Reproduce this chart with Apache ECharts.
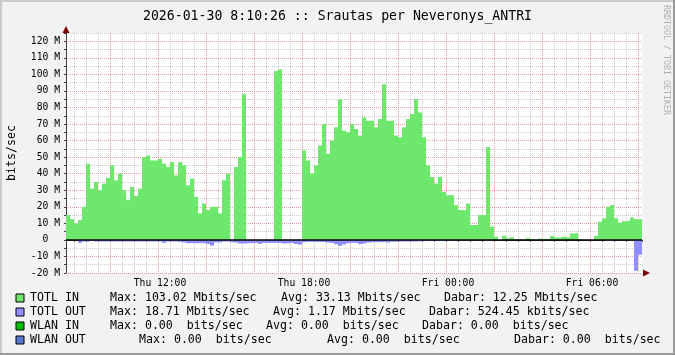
<!DOCTYPE html>
<html>
<head>
<meta charset="utf-8">
<script src="https://cdn.jsdelivr.net/npm/echarts@6/dist/echarts.min.js"></script>
<style>
	html, body { margin: 0; padding: 0; background: #f2f2f2; }
	#container { width: 675px; height: 355px; }
</style>
</head>
<body>
<div id="container"></div>
<script>
'use strict';

// samples every 10 minutes, starting Thu 08:10
var startMinute = 490;
var stepMinutes = 10;
var dayNames = ['Thu', 'Fri'];

// TOTL IN, Mbits/sec
var inMbits = [
	15, 12.5, 10, 12, 20, 46, 31, 35, 30, 34,
	37.5, 45, 36, 40, 30, 24, 32, 26.5, 31, 50,
	51, 48, 48, 49, 46, 44, 47, 39, 47, 45,
	33, 37, 26, 16, 22, 18, 20, 20, 16, 36,
	40, 0, 44, 50, 88, 0, 0, 0, 0, 0,
	0, 0, 102, 103, 0, 0, 0, 0, 0, 54,
	48, 40, 45, 57, 70, 52, 60, 68, 85, 66,
	65, 70, 67, 63, 74, 72, 72, 68, 73, 94,
	72, 72, 63, 62, 68, 73, 76, 85, 77, 62,
	45, 38, 34, 38, 29, 27, 27, 21, 18, 18,
	22, 9, 9, 15, 15, 56, 8, 2, 0, 2.5,
	1, 1.5, 0.3, 0.3, 0.2, 1, 0.5, 0, 0.8, 0.6,
	0.6, 2.4, 1.5, 1.4, 2, 1.6, 3.8, 4, 0.5, 0,
	0, 0, 2.5, 11, 13, 20, 21, 13, 10.5, 11.3,
	11.5, 13.5, 12.5, 12.5
];

// TOTL OUT, Mbits/sec (drawn below zero)
var outMbits = [
	0, 0, 0, -1.8, -1, -1, -0.6, -1, -1, -1,
	-1, -1, -1, -1, -1, -1, -1, -1, -1, -1,
	-1, -1, -1, -1, -1.8, -1, -1, -1, -1.2, -1.5,
	-2, -2, -2, -2, -2, -2.5, -3.5, -1.5, -1.5, -1,
	-1, -1.4, -1.6, -2.2, -2.2, -2, -2, -1.8, -2.4, -1.8,
	-1.8, -1.8, -1.8, -1.8, -2.2, -2, -1.8, -2.5, -2.8, -1.4,
	-1.2, -1.2, -1.2, -1.2, -1.3, -1.6, -1.8, -2.6, -3.6, -2.8,
	-2, -1.8, -1.8, -2.6, -2.2, -1.6, -1.4, -1.4, -1.4, -1.3,
	-1.6, -1.1, -1.1, -1, -1, -1, -1, -1, -0.8, -0.6,
	-0.6, -0.6, -0.6, -0.6, -0.6, -0.3, -0.6, -0.3, -0.3, -0.3,
	-0.3, -0.2, -0.2, -0.2, -0.2, -0.6, 0, 0, 0, 0,
	0, 0, 0, 0, 0, 0, 0, 0, 0, 0,
	0, 0, 0, 0, 0, 0, 0, 0, 0, 0,
	0, 0, 0, 0, 0, -0.6, -0.6, -0.2, -0.2, -0.2,
	-0.2, -0.3, -18.7, -9
];

// legend rows
var legendNames = ['TOTL IN', 'TOTL OUT', 'WLAN IN', 'WLAN OUT'];
var legendMax = ['Max: 103.02 Mbits/sec', 'Max: 18.71 Mbits/sec', 'Max: 0.00  bits/sec', 'Max: 0.00  bits/sec'];
var legendAvg = ['Avg: 33.13 Mbits/sec', 'Avg: 1.17 Mbits/sec', 'Avg: 0.00  bits/sec', 'Avg: 0.00  bits/sec'];
var legendCur = ['Dabar: 12.25 Mbits/sec', 'Dabar: 524.45 kbits/sec', 'Dabar: 0.00  bits/sec', 'Dabar: 0.00  bits/sec'];

var legendColors = ['#6de86d', '#8f8fff', '#00c000', '#5b77d0'];
var legendX = [
	[110, 281, 444],
	[110, 273, 429],
	[110, 266, 422],
	[139, 327, 514]
];

var MONO = 'DejaVu Sans Mono';

function pad(n) {
	return n < 10 ? '0' + n : '' + n;
}

function minuteOf(idx) {
	return startMinute + idx * stepMinutes;
}

var categories = [];
for (var i = 0; i < inMbits.length; i++) {
	var t = minuteOf(i);
	categories.push(dayNames[Math.floor(t / 1440)] + ' ' + pad(Math.floor(t / 60) % 24) + ':' + pad(t % 60));
}

var inBits = inMbits.map(function(v) { return v * 1e6; });
var outBits = outMbits.map(function(v) { return v * 1e6; });

var graphics = [];

// frame
graphics.push({ type: 'rect', shape: { x: 0, y: 0, width: 675, height: 2 }, style: { fill: '#cbcbcb' }, silent: true });
graphics.push({ type: 'rect', shape: { x: 0, y: 0, width: 2, height: 355 }, style: { fill: '#cbcbcb' }, silent: true });
graphics.push({ type: 'rect', shape: { x: 673, y: 0, width: 2, height: 355 }, style: { fill: '#999999' }, silent: true });
graphics.push({ type: 'rect', shape: { x: 0, y: 353, width: 675, height: 2 }, style: { fill: '#999999' }, silent: true });

// axis arrows
graphics.push({ type: 'polygon', shape: { points: [[643, 269.5], [650, 273], [643, 276.5]] }, style: { fill: '#7f0000' }, silent: true });
graphics.push({ type: 'polygon', shape: { points: [[62.5, 33], [66, 26], [69.5, 33]] }, style: { fill: '#7f0000' }, silent: true });

// watermark
graphics.push({
	type: 'text', x: 666, y: 60, rotation: -Math.PI / 2, silent: true,
	style: { text: 'RRDTOOL / TOBI OETIKER', fill: '#b0b0b0', font: '8.3px ' + MONO, textAlign: 'center', textVerticalAlign: 'middle' }
});

// legend
for (var r = 0; r < legendNames.length; r++) {
	var y = 298 + r * 14;
	graphics.push({
		type: 'rect', shape: { x: 16, y: y - 4, width: 8, height: 8 }, silent: true,
		style: { fill: legendColors[r], stroke: '#000', lineWidth: 1 }
	});
	var texts = [legendNames[r], legendMax[r], legendAvg[r], legendCur[r]];
	var xs = [30].concat(legendX[r]);
	for (var k = 0; k < texts.length; k++) {
		graphics.push({
			type: 'text', x: xs[k], y: y, silent: true,
			style: { text: texts[k], fill: '#000', font: '11.6px ' + MONO, textAlign: 'left', textVerticalAlign: 'middle' }
		});
	}
}

var option = {
	animation: false,
	backgroundColor: '#f2f2f2',
	title: {
		text: '2026-01-30 8:10:26 :: Srautas per Neveronys_ANTRI',
		left: 'center',
		top: 5,
		textStyle: { fontFamily: MONO, fontSize: 13.2, fontWeight: 'normal', color: '#000' }
	},
	grid: {
		left: 66, top: 33, width: 576, height: 240,
		outerBoundsMode: 'none',
		containLabel: false,
		backgroundColor: '#fff', show: true, borderWidth: 0
	},
	xAxis: {
		type: 'category',
		data: categories,
		boundaryGap: true,
		axisLine: { lineStyle: { color: '#404040', width: 1 } },
		axisTick: {
			show: true, length: 2,
			interval: function(idx) { return minuteOf(idx) % 30 === 0; },
			lineStyle: { color: '#404040' }
		},
		axisLabel: {
			interval: function(idx) { var t = minuteOf(idx); return t % 360 === 0; },
			margin: 5,
			fontFamily: MONO, fontSize: 9.7, color: '#000'
		},
		splitLine: {
			show: true,
			showMaxLine: false,
			interval: function(idx) { return minuteOf(idx) % 30 === 0; },
			lineStyle: {
				// 08:30, 09:00, 09:30 minor, 10:00 major, ...
				color: ['rgba(140,140,140,0.45)', 'rgba(140,140,140,0.45)', 'rgba(140,140,140,0.45)', 'rgba(220,40,40,0.45)'],
				type: [1, 1], width: 1
			}
		}
	},
	yAxis: {
		type: 'value',
		min: -20e6,
		max: 125e6,
		interval: 5e6,
		name: 'bits/sec',
		nameLocation: 'middle',
		nameRotate: 90,
		nameGap: 48,
		nameTextStyle: { fontFamily: MONO, fontSize: 11.6, color: '#000' },
		axisLine: { show: true, lineStyle: { color: '#404040', width: 1 } },
		axisTick: { show: true, length: 2, lineStyle: { color: '#404040' } },
		axisLabel: {
			margin: 6,
			fontFamily: MONO, fontSize: 9.7, color: '#000',
			formatter: function(v) {
				if (v === 0) return '0  ';
				if (v % 10e6 !== 0) return '';
				return (v / 1e6) + ' M';
			}
		},
		splitLine: {
			show: true,
			lineStyle: {
				color: ['rgba(220,40,40,0.45)', 'rgba(140,140,140,0.45)'],
				type: [1, 1], width: 1
			}
		}
	},
	series: [{
		name: 'TOTL IN',
		type: 'bar',
		stack: 'total',
		data: inBits,
		barCategoryGap: '0%',
		itemStyle: { color: '#6de86d' },
		markLine: {
			silent: true,
			symbol: ['none', 'none'],
			label: { show: false },
			lineStyle: { color: '#000', width: 1.5, type: 'solid' },
			data: [{ yAxis: 0 }]
		}
	}, {
		name: 'TOTL OUT',
		type: 'bar',
		stack: 'total',
		data: outBits,
		barCategoryGap: '0%',
		itemStyle: { color: '#8f8fff' }
	}],
	graphic: graphics
};

var myChart = echarts.init(document.getElementById('container'), null, { renderer: 'canvas' });
myChart.setOption(option);
</script>
</body>
</html>
